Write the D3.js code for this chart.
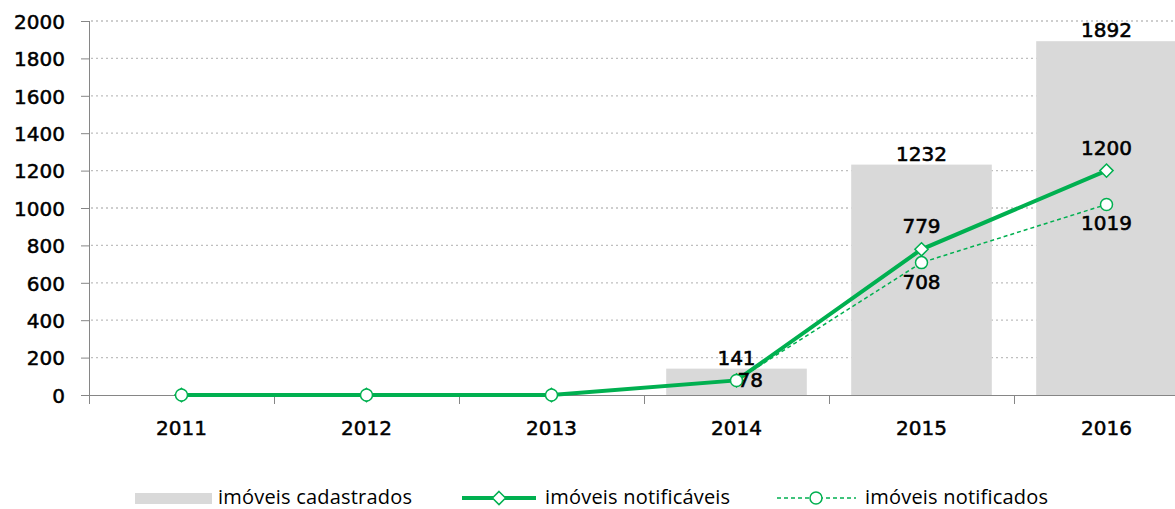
<!DOCTYPE html>
<html>
<head>
<meta charset="utf-8">
<script src="https://cdn.jsdelivr.net/npm/d3@7"></script>
<style>
    body { margin: 0; background: #fff; }
    svg { display: block; }
    .tick-label { font-family: "DejaVu Sans", Verdana, sans-serif; font-size: 20px; fill: #000; stroke: #000; stroke-width: 0.5px; }
    .data-label { font-family: "DejaVu Sans", Verdana, sans-serif; font-size: 20px; fill: #000; stroke: #000; stroke-width: 0.6px; }
    .legend-label { font-family: "Open Sans", sans-serif; font-size: 20px; letter-spacing: 0.2px; fill: #000; }
</style>
</head>
<body>
<div id="chartArea"></div>
<script>
// Data
let years = ['2011', '2012', '2013', '2014', '2015', '2016'];
let cadastrados = [0, 0, 0, 141, 1232, 1892];
let notificaveis = [0, 0, 0, 78, 779, 1200];
let notificados = [0, 0, 0, 78, 708, 1019];
let yTicks = [0, 200, 400, 600, 800, 1000, 1200, 1400, 1600, 1800, 2000];
let legendNames = ['imóveis cadastrados', 'imóveis notificáveis', 'imóveis notificados'];

let green = '#00b050';

let margins = { top: 21, left: 89 };
let width = 1175, height = 509;
let plotBottom = 395;
let bandWidth = 185;

let svg = d3.select('#chartArea')
    .append('svg')
    .attr('width', width)
    .attr('height', height);

let xScale = d3.scaleBand()
    .domain(years)
    .range([margins.left, margins.left + bandWidth * years.length])
    .paddingInner(0.24)
    .paddingOuter(0.12);

let yScale = d3.scaleLinear()
    .domain([0, 2000])
    .range([plotBottom, margins.top]);

let cx = d => xScale(d) + xScale.bandwidth() / 2;

// Dotted gridlines
svg.append('g')
    .selectAll('line')
    .data(yTicks.filter(d => d > 0))
    .enter().append('line')
    .attr('x1', margins.left + 2)
    .attr('x2', width)
    .attr('y1', d => yScale(d))
    .attr('y2', d => yScale(d))
    .attr('stroke', '#bfbfbf')
    .attr('stroke-width', 1.3)
    .attr('stroke-dasharray', '2,3');

// Bars
svg.append('g')
    .selectAll('rect')
    .data(years)
    .enter().append('rect')
    .attr('x', d => xScale(d))
    .attr('width', xScale.bandwidth())
    .attr('y', (d, i) => yScale(cadastrados[i]))
    .attr('height', (d, i) => plotBottom - yScale(cadastrados[i]))
    .attr('fill', '#d9d9d9');

// Y axis
let yAxis = svg.append('g')
    .attr('transform', 'translate(' + margins.left + ',0)')
    .call(d3.axisLeft(yScale)
        .tickValues(yTicks)
        .tickFormat(d3.format('d'))
        .tickSize(8).tickSizeOuter(0).tickPadding(16));
yAxis.select('.domain').attr('stroke', '#868686').attr('d', 'M0.5,' + margins.top + 'V' + (plotBottom + 9));
yAxis.selectAll('.tick line').attr('stroke', '#868686');
yAxis.selectAll('.tick text').attr('class', 'tick-label').attr('dy', '0.36em');

// X axis
let xAxis = svg.append('g')
    .attr('transform', 'translate(0,' + plotBottom + ')');
xAxis.append('line')
    .attr('x1', margins.left)
    .attr('x2', width)
    .attr('y1', 0.5).attr('y2', 0.5)
    .attr('stroke', '#868686');
let boundaries = years.map(d => xScale(d) - xScale.step() * xScale.paddingInner() / 2);
xAxis.selectAll('.xtick')
    .data(boundaries)
    .enter().append('line')
    .attr('x1', d => Math.round(d) + 0.5)
    .attr('x2', d => Math.round(d) + 0.5)
    .attr('y1', 0).attr('y2', 9)
    .attr('stroke', '#868686');
xAxis.selectAll('.xlabel')
    .data(years)
    .enter().append('text')
    .attr('class', 'tick-label')
    .attr('x', d => cx(d))
    .attr('y', 40)
    .attr('text-anchor', 'middle')
    .text(d => d);

// Lines
let line = d3.line()
    .x(d => cx(d[0]))
    .y(d => yScale(d[1]));

let pairsNotificados = years.map((d, i) => [d, notificados[i]]);
let pairsNotificaveis = years.map((d, i) => [d, notificaveis[i]]);

svg.append('path')
    .attr('d', line(pairsNotificados))
    .attr('fill', 'none')
    .attr('stroke', green)
    .attr('stroke-width', 1.5)
    .attr('stroke-dasharray', '4,3');

svg.append('path')
    .attr('d', line(pairsNotificaveis))
    .attr('fill', 'none')
    .attr('stroke', green)
    .attr('stroke-width', 4);

let diamond = d3.symbol().type(d3.symbolDiamond2).size(110);

svg.append('g')
    .selectAll('path')
    .data(pairsNotificaveis)
    .enter().append('path')
    .attr('d', diamond)
    .attr('transform', d => 'translate(' + cx(d[0]) + ',' + yScale(d[1]) + ')')
    .attr('fill', '#fff')
    .attr('stroke', green)
    .attr('stroke-width', 1.5);

svg.append('g')
    .selectAll('circle')
    .data(pairsNotificados)
    .enter().append('circle')
    .attr('cx', d => cx(d[0]))
    .attr('cy', d => yScale(d[1]))
    .attr('r', 6)
    .attr('fill', '#fff')
    .attr('stroke', green)
    .attr('stroke-width', 1.5);

// Data labels
let labels = svg.append('g');
years.forEach((d, i) => {
    if (cadastrados[i] > 0) {
        labels.append('text')
            .attr('class', 'data-label')
            .attr('x', cx(d))
            .attr('y', yScale(cadastrados[i]) - 4)
            .attr('text-anchor', 'middle')
            .text(cadastrados[i]);
    }
});
years.forEach((d, i) => {
    if (notificaveis[i] > 0 && i > 3) {
        labels.append('text')
            .attr('class', 'data-label')
            .attr('x', cx(d))
            .attr('y', yScale(notificaveis[i]) - 16)
            .attr('text-anchor', 'middle')
            .text(notificaveis[i]);
    }
    if (notificados[i] > 0 && i > 3) {
        labels.append('text')
            .attr('class', 'data-label')
            .attr('x', cx(d))
            .attr('y', yScale(notificados[i]) + 26)
            .attr('text-anchor', 'middle')
            .text(notificados[i]);
    }
});
// 2014 value sits to the right of its marker
labels.append('text')
    .attr('class', 'data-label')
    .attr('x', cx('2014') + 1)
    .attr('y', yScale(notificaveis[3]) + 7)
    .text(notificaveis[3]);

// Legend
let legend = svg.append('g').attr('transform', 'translate(0,498)');

legend.append('rect')
    .attr('x', 135).attr('y', -5)
    .attr('width', 77).attr('height', 11)
    .attr('fill', '#d9d9d9');
legend.append('text')
    .attr('class', 'legend-label')
    .attr('x', 218).attr('y', 6)
    .text(legendNames[0]);

legend.append('line')
    .attr('x1', 462).attr('x2', 536)
    .attr('y1', 0).attr('y2', 0)
    .attr('stroke', green).attr('stroke-width', 4);
legend.append('path')
    .attr('d', diamond)
    .attr('transform', 'translate(499,0)')
    .attr('fill', '#fff')
    .attr('stroke', green)
    .attr('stroke-width', 1.5);
legend.append('text')
    .attr('class', 'legend-label')
    .attr('x', 545).attr('y', 6)
    .text(legendNames[1]);

legend.append('line')
    .attr('x1', 777).attr('x2', 856)
    .attr('y1', 0).attr('y2', 0)
    .attr('stroke', green).attr('stroke-width', 1.5)
    .attr('stroke-dasharray', '4,3');
legend.append('circle')
    .attr('cx', 816).attr('cy', 0).attr('r', 6)
    .attr('fill', '#fff')
    .attr('stroke', green)
    .attr('stroke-width', 1.5);
legend.append('text')
    .attr('class', 'legend-label')
    .attr('x', 865).attr('y', 6)
    .text(legendNames[2]);
</script>
</body>
</html>
